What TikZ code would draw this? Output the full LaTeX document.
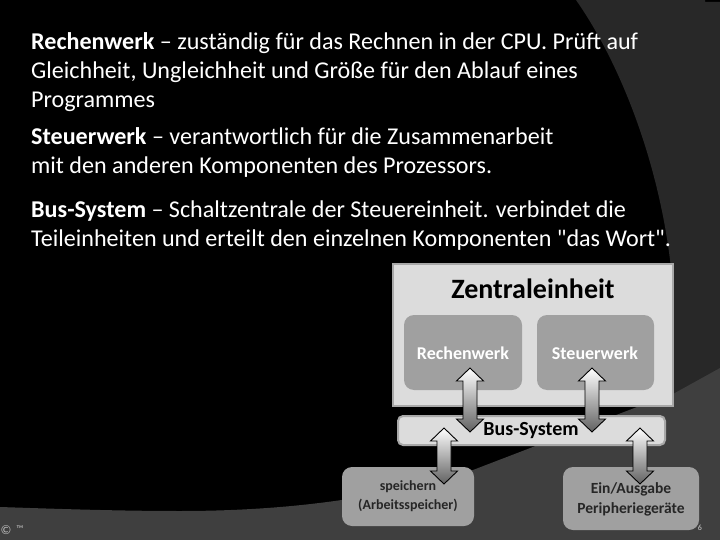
\documentclass[tikz,border=0pt]{standalone}
\usepackage{fontspec}
\setmainfont{Carlito}
\newfontfamily\plainf{Carlito}
\usetikzlibrary{calc}
\definecolor{panelgray}{HTML}{DCDCDC}
\definecolor{boxgray}{HTML}{A0A0A0}
\definecolor{edgegray}{HTML}{A8A8A8}
\definecolor{arcgray}{HTML}{282828}
\definecolor{wedgegray}{HTML}{3F3F3F}
\tikzset{
  x=1pt,y=-1pt,
  bodytext/.style={anchor=base west,inner sep=0pt,text=white,font=\fontsize{24.1}{26}\selectfont},
  panel/.style={draw=edgegray,line width=2pt,fill=panelgray},
  innerbox/.style={fill=boxgray,rounded corners=10pt},
  boxlabel/.style={inner sep=0pt,font=\fontsize{18}{20}\selectfont\bfseries},
}
\newcommand{\dblarrow}[2]{%
  \path[draw=black,line width=0.9pt,top color=white,bottom color=black!62]
    (#1) -- ($(#1)+(13.5,13)$) -- ($(#1)+(7,13)$) -- ($(#2)+(7,-13)$) -- ($(#2)+(13.5,-13)$)
    -- (#2) -- ($(#2)+(-13.5,-13)$) -- ($(#2)+(-7,-13)$) -- ($(#1)+(-7,13)$) -- ($(#1)+(-13.5,13)$) -- cycle;}
\begin{document}
\begin{tikzpicture}
\useasboundingbox (0,0) rectangle (720,540);
\fill[black] (0,0) rectangle (720,540);
\fill[arcgray] (576,0) .. controls (625,70) and (665,180) .. (673,290) -- (673,400) -- (720,400) -- (720,2) -- (705,2) -- (705,0) -- cycle;
\fill[wedgegray] (0,507) .. controls (60,509) and (120,511) .. (180,511)
  .. controls (280,511) and (380,500) .. (473,470) -- (637,407) -- (673,394) -- (720,368) -- (720,540) -- (0,540) -- cycle;
% body text
\node[bodytext] (l1) at (31,49.5) {\textbf{Rechenwerk} – zuständig für das Rechnen in der CPU. Prüft auf};
\node[bodytext] (l2) at (31,78.5) {Gleichheit, Ungleichheit und Größe für den Ablauf eines};
\node[bodytext] (l3) at (31,107.5) {Programmes};
\node[bodytext] (l4) at (31,145) {\textbf{Steuerwerk} – verantwortlich für die Zusammenarbeit};
\node[bodytext] (l5) at (31,174) {mit den anderen Komponenten des Prozessors.};
\node[bodytext] (l6) at (31,218) {\textbf{Bus-System} – Schaltzentrale der Steuereinheit. verbindet die};
\node[bodytext] (l7) at (31,247) {Teileinheiten und erteilt den einzelnen Komponenten {\plainf"}das Wort{\plainf"}.};
% boxes
\path[panel] (393,264) rectangle (673,406);
\path[innerbox] (404,315) rectangle (522,390);
\path[innerbox] (537,315) rectangle (654,390);
\path[panel,rounded corners=5pt] (398,416) rectangle (665,445);
\path[innerbox] (342,467) rectangle (474,526);
\path[innerbox] (563,467) rectangle (699,530);
% named anchors of the connectors
\coordinate (r) at (470,368); \coordinate (rb) at (470,432);
\coordinate (s) at (592,368); \coordinate (sb) at (592,432);
\coordinate (m) at (444,428); \coordinate (mb) at (444,484);
\coordinate (e) at (640,428); \coordinate (eb) at (640,484);
% labels
\node[inner sep=0pt,font=\fontsize{28}{30}\selectfont\bfseries,text=black] (zt) at (533,289) {Zentraleinheit};
\node[boxlabel,text=white] (rt) at (463,353) {Rechenwerk};
\node[boxlabel,text=white] (st) at (595,353) {Steuerwerk};
% arrows
\dblarrow{r}{rb}
\dblarrow{s}{sb}
\dblarrow{m}{mb}
\dblarrow{e}{eb}
\node[inner sep=0pt,font=\fontsize{20}{22}\selectfont\bfseries,text=black] (bt) at (531,431) {Bus-System};
\node[inner sep=0pt,align=center,text=black!85,font=\fontsize{14}{19}\selectfont\bfseries] (mt) at (408,496) {speichern\\(Arbeitsspeicher)};
\node[inner sep=0pt,align=center,text=black!85,font=\fontsize{15.5}{20}\selectfont\bfseries] (et) at (631,499) {Ein/Ausgabe\\Peripheriegeräte};
\node[inner sep=0pt,text=white!80!black,font=\fontsize{8}{9}\selectfont] (pn) at (700,528) {6};
\node[inner sep=0pt,text=white!75!black,font=\fontsize{13}{14}\selectfont] (cp) at (6,530) {©};
\node[inner sep=0pt,text=white!75!black,font=\fontsize{10}{11}\selectfont] (tm) at (20,529) {™};
\end{tikzpicture}
\end{document}
